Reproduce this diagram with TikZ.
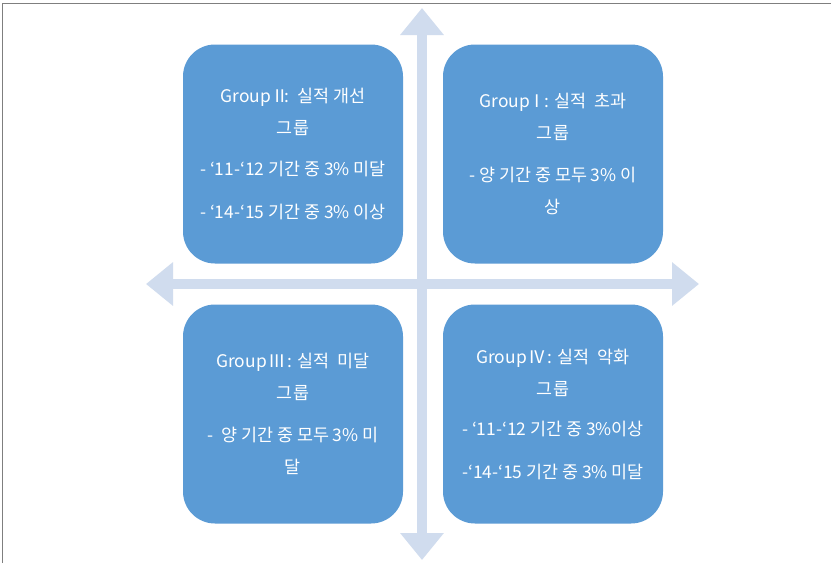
\documentclass[tikz,border=0pt]{standalone}
\usepackage{fontspec}
\setmainfont{Noto Sans CJK KR}
\usetikzlibrary{arrows.meta}
\definecolor{boxblue}{HTML}{5B9BD5}
\definecolor{arrowblue}{HTML}{D0DCEE}
\definecolor{framegray}{HTML}{7F7F7F}
\newcommand{\rn}[2]{\makebox[#1em]{#2}}
\tikzset{
  quad/.style={fill=boxblue, rounded corners=32pt, minimum width=220pt,
    minimum height=219pt, text=white, align=center, inner sep=0pt,
    font=\fontsize{17.4}{32}\selectfont},
  axis/.style={draw=arrowblue, line width=10pt,
    {Triangle[width=42pt,length=27pt]}-{Triangle[width=42pt,length=27pt]}},
  frame/.style={draw=framegray, line width=1.3pt}
}
\begin{document}
\begin{tikzpicture}[x=1pt,y=-1pt]
\useasboundingbox (0,0) rectangle (831,563);
\fill[white] (0,0) rectangle (831,563);
% frame
\coordinate (fbl) at (2.5,563);
\coordinate (ftl) at (2.5,3.5);
\coordinate (ftr) at (831,3.5);
\draw[frame] (fbl) -- (ftl) -- (ftr);
% axes
\coordinate (vtop) at (422,8);
\coordinate (vbot) at (422,560);
\coordinate (hleft) at (146,284);
\coordinate (hright) at (699,284);
\draw[axis] (vtop) -- (vbot);
\draw[axis] (hleft) -- (hright);
% quadrants
\node[quad] (g2) at (293,154) {Group \rn{0.55}{Ⅱ}:\ \ 실적 개선\\그룹\\[9pt]- ‘11-‘12 기간 중 3\% 미달\\[11pt]- ‘14-‘15 기간 중 3\% 이상};
\node[quad] (g1) at (553,154) {Group \rn{0.4}{Ⅰ} : 실적\ \ 초과\\그룹\\[10pt]- 양 기간 중 모두 3\% 이\\상};
\node[quad] (g3) at (293,414) {Group \rn{0.75}{Ⅲ} : 실적\ \ 미달\\그룹\\[10pt]-\ \ 양 기간 중 모두 3\% 미\\달};
\node[quad] (g4) at (553,414) {Group \rn{0.75}{Ⅳ} : 실적\ \ 악화\\그룹\\[8pt]- ‘11-‘12 기간 중 3\%이상\\[11pt]-‘14-‘15 기간 중 3\% 미달};
\end{tikzpicture}
\end{document}
